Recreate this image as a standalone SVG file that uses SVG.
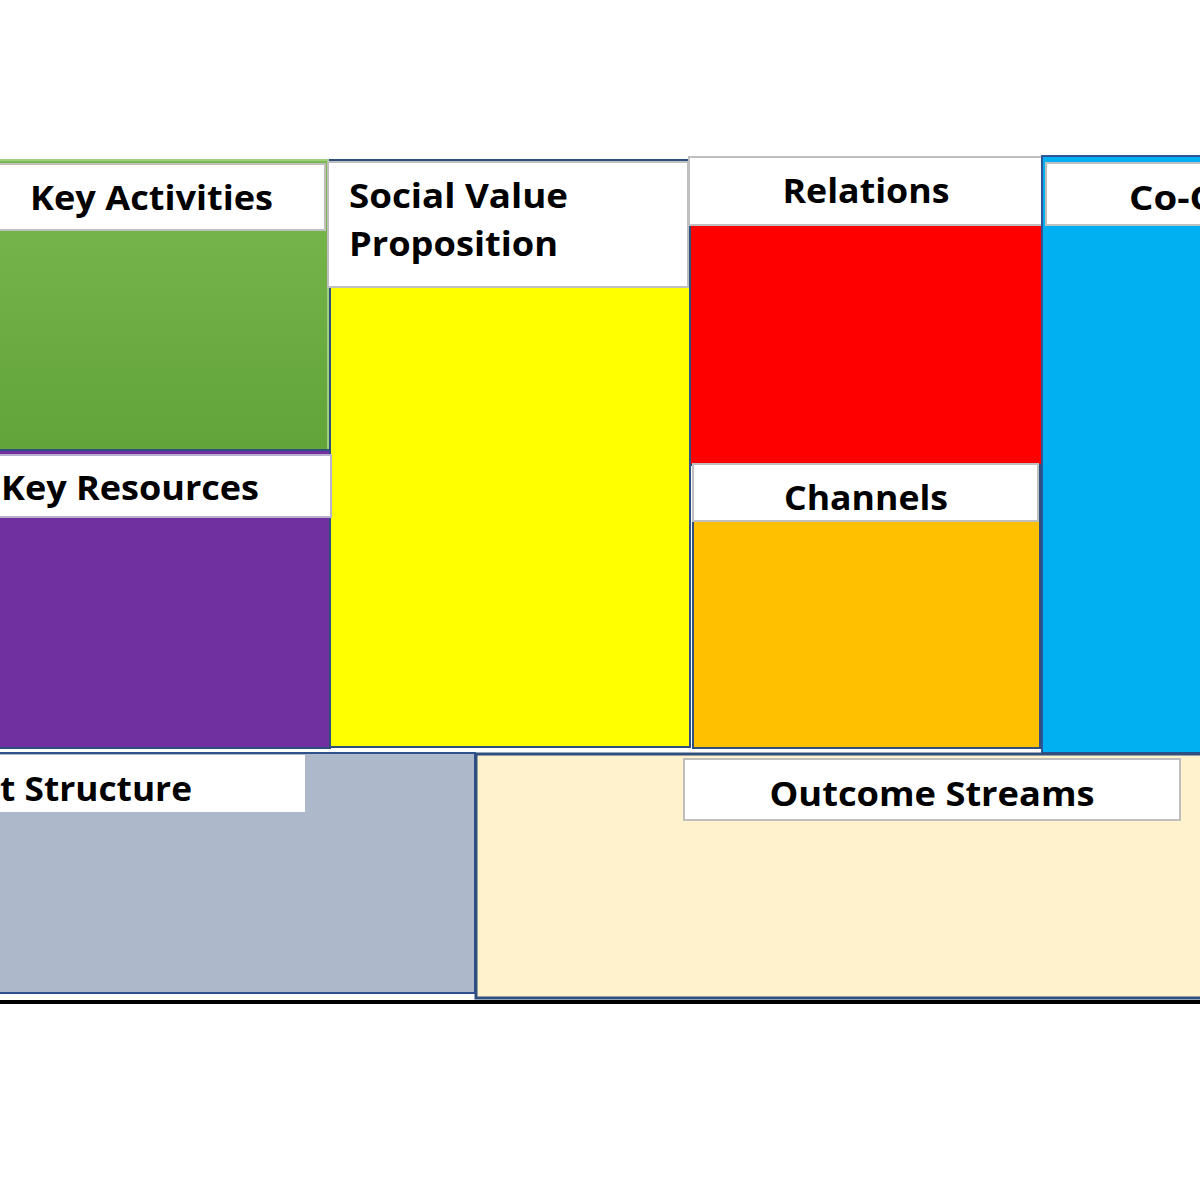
<svg xmlns="http://www.w3.org/2000/svg" width="1200" height="1200" viewBox="0 0 1200 1200">
<defs>
<linearGradient id="g" x1="0" y1="0" x2="0" y2="1">
<stop offset="0" stop-color="#7ab94e"/>
<stop offset="1" stop-color="#62a33a"/>
</linearGradient>
</defs>
<style>
.lab{fill:#fff;stroke:#bfbfbf;stroke-width:2}
.bd{stroke:#2f4f7f;stroke-width:2}
text{font-family:"Open Sans","Liberation Sans",sans-serif;font-weight:bold;font-size:34px;fill:#000}
</style>
<rect width="1200" height="1200" fill="#fff"/>
<g id="key-activities">
<rect x="-2" y="160" width="330" height="290" fill="url(#g)" stroke="#9fcf7f" stroke-width="2"/>
<rect class="lab" x="-2" y="164" width="327" height="66"/>
<text x="30" y="210" textLength="243" lengthAdjust="spacingAndGlyphs">Key Activities</text>
</g>
<g id="social-value">
<rect class="bd" x="330" y="160" width="360" height="587" fill="#ffff00"/>
<rect class="lab" x="328" y="162" width="360" height="125"/>
<text x="349" y="208" textLength="219" lengthAdjust="spacingAndGlyphs">Social Value</text>
<text x="349" y="256" textLength="209" lengthAdjust="spacingAndGlyphs">Proposition</text>
</g>
<g id="relations">
<rect class="bd" x="690" y="158" width="352" height="307" fill="#ff0000"/>
<rect class="lab" x="689" y="157" width="354" height="68"/>
<text x="866" y="203" text-anchor="middle" textLength="167" lengthAdjust="spacingAndGlyphs">Relations</text>
</g>
<g id="co-c">
<rect x="1042" y="156" width="170" height="597" fill="#00b0f0" stroke="#2f5597" stroke-width="2"/>
<rect class="lab" x="1046" y="163" width="160" height="62"/>
<text x="1129" y="210" textLength="85" lengthAdjust="spacingAndGlyphs">Co-C</text>
</g>
<g id="key-resources">
<rect class="bd" x="-2" y="450" width="332" height="298" fill="#7030a0"/>
<rect x="-2" y="455" width="333" height="62" fill="#fff" stroke="#b8b0cc" stroke-width="2"/>
<text x="1" y="500" textLength="258" lengthAdjust="spacingAndGlyphs">Key Resources</text>
</g>
<g id="channels">
<rect class="bd" x="693" y="465" width="347" height="283" fill="#ffc000"/>
<rect class="lab" x="693" y="464" width="345" height="57"/>
<text x="866" y="510" text-anchor="middle" textLength="164" lengthAdjust="spacingAndGlyphs">Channels</text>
</g>
<g id="cost-structure">
<rect x="-2" y="753" width="477" height="240" fill="#adb9ca" stroke="#2f528f" stroke-width="2"/>
<rect x="-2" y="755" width="307" height="57" fill="#fff"/>
<text x="0" y="801" textLength="192" lengthAdjust="spacingAndGlyphs">t Structure</text>
</g>
<g id="outcome-streams">
<rect x="476" y="754" width="740" height="244" fill="#fff2cc" stroke="#2f4f7f" stroke-width="3"/>
<rect class="lab" x="684" y="759" width="496" height="61"/>
<text x="932" y="806" text-anchor="middle" textLength="325" lengthAdjust="spacingAndGlyphs">Outcome Streams</text>
</g>
<g id="connectors">
<line x1="0" y1="1002" x2="1200" y2="1002" stroke="#000" stroke-width="4"/>
</g>
</svg>
